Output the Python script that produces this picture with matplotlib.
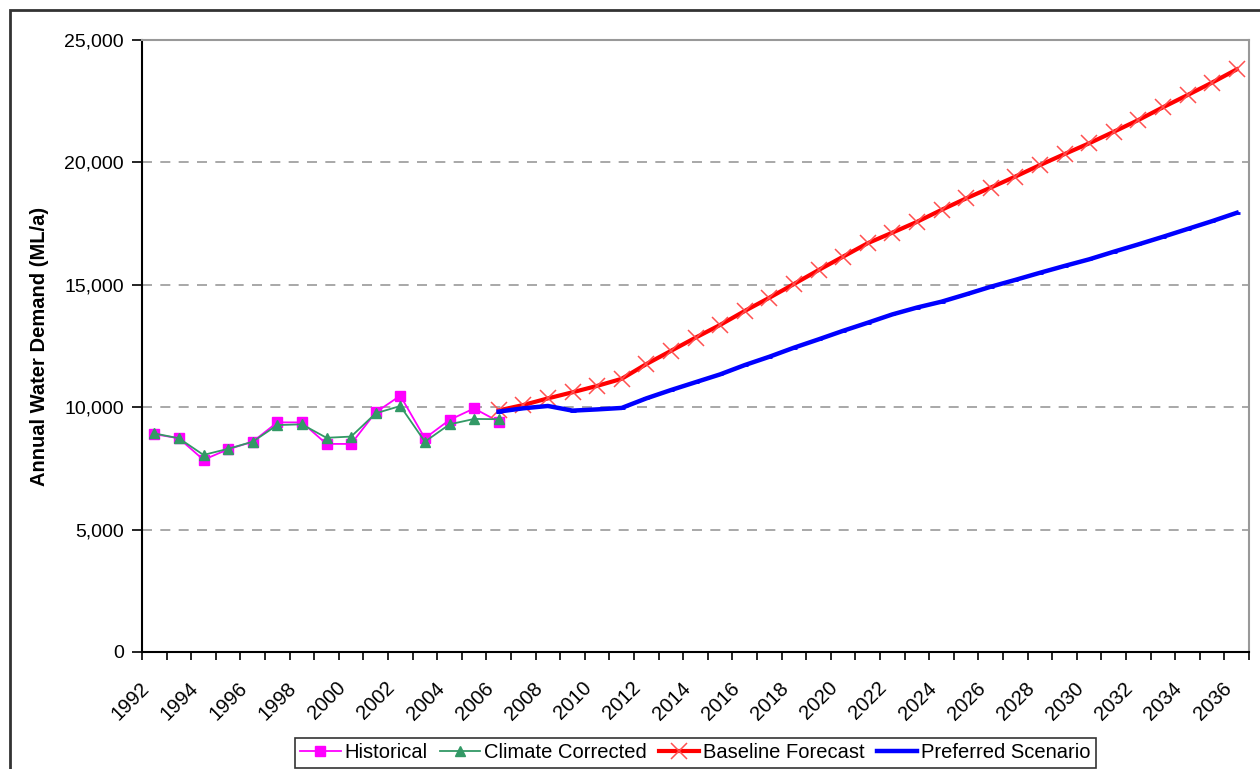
import matplotlib
matplotlib.use("Agg")
import matplotlib.pyplot as plt
import matplotlib.transforms as mtransforms
from matplotlib.patches import Rectangle
import numpy as np

plt.rcParams['font.family'] = ['Liberation Sans', 'DejaVu Sans']

years = list(range(1992, 2037))

hist_years = list(range(1992, 2007))
historical = [8900, 8730, 7850, 8280, 8590, 9380, 9380, 8500, 8500, 9790,
              10470, 8730, 9480, 9950, 9410]
climate_corrected = [8930, 8730, 8050, 8300, 8590, 9270, 9300, 8750, 8800, 9750,
                     10050, 8590, 9300, 9520, 9510]

fc_years = list(range(2006, 2037))
baseline = [9870, 10090, 10360, 10610, 10870, 11160, 11760, 12300, 12840, 13360,
            13930, 14470, 15030, 15600, 16150, 16700, 17130, 17570, 18060, 18530,
            18970, 19420, 19890, 20340, 20780, 21250, 21730, 22250, 22750, 23260,
            23800]
preferred = [9820, 9955, 10050, 9860, 9910, 9970, 10360, 10700, 11020, 11340,
             11720, 12060, 12430, 12770, 13120, 13450, 13790, 14070, 14310, 14610,
             14920, 15200, 15490, 15770, 16040, 16350, 16650, 16960, 17280, 17600,
             17940]

yticks = [0, 5000, 10000, 15000, 20000, 25000]
tick_years = list(range(1992, 2037, 2))

W, H = 1260, 769
fig = plt.figure(figsize=(W / 100, H / 100), dpi=100)
ax = fig.add_axes([142 / W, 1 - 652 / H, (1249 - 142) / W, (652 - 40) / H])

def xi(ys):
    return [y - 1992 for y in ys]

ax.plot(xi(hist_years), historical, color='#FF00FF', lw=1.3, marker='s', ms=7,
        mec='#FF00FF', mfc='#FF00FF', label='Historical', zorder=3)
ax.plot(xi(hist_years), climate_corrected, color='#339966', lw=1.3, marker='^', ms=7,
        mec='#339966', mfc='#339966', label='Climate Corrected', zorder=4)
ax.plot(xi(fc_years), baseline, color='#FF0000', lw=3, marker='x', ms=12, mew=1.1,
        mec='#FF5050', label='Baseline Forecast', zorder=5)
ax.plot(xi(fc_years), preferred, color='#0000FF', lw=3.2, marker='_', ms=5, mew=2,
        label='Preferred Scenario', zorder=6)

ax.set_xlim(-0.5, len(years) - 0.5)
ax.set_ylim(0, 25000)
ax.set_yticks(yticks)
ax.set_yticklabels([f"{v:,}" for v in yticks], fontsize=14)
for v in yticks[1:-1]:
    ax.axhline(v, color='#999999', lw=1.2, ls=(0, (6, 5)), zorder=1)

ax.set_xticks([y - 1992 for y in tick_years])
ax.set_xticklabels([str(y) for y in tick_years], fontsize=14.5, rotation=45,
                   ha='right', va='top', rotation_mode='anchor')
ax.set_xticks(np.arange(-0.5, len(years), 1), minor=True)
ax.tick_params(axis='x', which='major', length=0, pad=19)
ax.tick_params(axis='x', which='minor', length=6, width=1.2, direction='out', color='black')
ax.tick_params(axis='y', length=7, width=1.2, direction='out', pad=6)
offset = mtransforms.ScaledTranslation(-15 / 100, 0, fig.dpi_scale_trans)
for lab in ax.get_xticklabels():
    lab.set_transform(lab.get_transform() + offset)

for s in ['left', 'bottom']:
    ax.spines[s].set_color('black')
    ax.spines[s].set_linewidth(1.5)
for s in ['top', 'right']:
    ax.spines[s].set_color('#999999')
    ax.spines[s].set_linewidth(1.5)

ax.set_ylabel('Annual Water Demand (ML/a)', fontsize=14.5, fontweight='bold', labelpad=11)

leg = fig.legend(loc='center', bbox_to_anchor=(695.5 / W, 1 - 753 / H), ncol=4,
                 fontsize=14.5, frameon=True, fancybox=False, edgecolor='black',
                 handlelength=2.0, handletextpad=0.2, columnspacing=0.6,
                 borderpad=0.25, borderaxespad=0)
leg.get_frame().set_linewidth(1.2)

fig.patches.append(Rectangle((9.5 / W, -0.05), 1.1, 1 - 9.5 / H + 0.05,
                             transform=fig.transFigure, fill=False,
                             edgecolor='#333333', lw=2.0))

fig.savefig('out.png', dpi=100)
